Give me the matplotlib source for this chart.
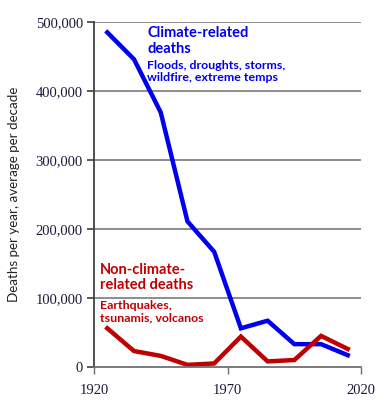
import matplotlib
matplotlib.use('Agg')
import matplotlib.pyplot as plt
from matplotlib.ticker import FuncFormatter

# decade midpoints
years = [1925, 1935, 1945, 1955, 1965, 1975, 1985, 1995, 2005, 2015]
climate = [485000, 446000, 369000, 211000, 167000, 56000, 67000, 33000, 33000, 17000]
non_climate = [56000, 23000, 16000, 3000, 5000, 44000, 8000, 10000, 45000, 26000]

xticks = [1920, 1970, 2020]
yticks = [0, 100000, 200000, 300000, 400000, 500000]

blue = '#0000ee'
red = '#c00000'

fig = plt.figure(figsize=(3.85, 4.01), dpi=100)
ax = fig.add_axes([0.244, 0.085, 0.694, 0.86])

ax.plot(years, climate, color=blue, lw=3.2, solid_joinstyle='miter')
ax.plot(years, non_climate, color=red, lw=3.2, solid_joinstyle='miter')

ax.set_xlim(1920, 2020)
ax.set_ylim(0, 500000)
ax.set_xticks(xticks)
ax.set_yticks(yticks)
ax.yaxis.set_major_formatter(FuncFormatter(lambda v, p: '{:,.0f}'.format(v)))

for y in yticks[1:]:
    ax.axhline(y, color='#7a7a7a', lw=1.2, zorder=0)

for s in ['top', 'right']:
    ax.spines[s].set_visible(False)
ax.spines['left'].set_color('#404040')
ax.spines['left'].set_linewidth(1.3)
ax.spines['bottom'].set_color('#707070')
ax.spines['bottom'].set_linewidth(1.3)
ax.tick_params(axis='y', direction='out', length=5, width=1.2, color='#404040', pad=3)
ax.tick_params(axis='x', direction='out', length=5, width=1.0, color='#707070', pad=7)
for lab in ax.get_xticklabels() + ax.get_yticklabels():
    lab.set_fontfamily('Liberation Serif')
    lab.set_fontsize(10.5)
    lab.set_color('#1a1a3a')

ax.set_ylabel('Deaths per year, average per decade', fontfamily='Lato',
              fontsize=9.6, color='#222222')
ax.yaxis.set_label_coords(-0.275, 0.5)

ax.text(0.2, 0.99, 'Climate-related\ndeaths', transform=ax.transAxes,
        color=blue, fontfamily='Lato', fontweight='bold', fontsize=10.5,
        va='top', ha='left', linespacing=1.2)
ax.text(0.2, 0.89, 'Floods, droughts, storms,\nwildfire, extreme temps',
        transform=ax.transAxes, color=blue, fontfamily='Lato',
        fontweight='bold', fontsize=8.9, va='top', ha='left', linespacing=1.15)

ax.text(0.022, 0.302, 'Non-climate-\nrelated deaths', transform=ax.transAxes,
        color=red, fontfamily='Lato', fontweight='bold', fontsize=10.5,
        va='top', ha='left', linespacing=1.15)
ax.text(0.022, 0.193, 'Earthquakes,\ntsunamis, volcanos',
        transform=ax.transAxes, color=red, fontfamily='Lato',
        fontweight='bold', fontsize=8.9, va='top', ha='left', linespacing=1.15)

fig.savefig('out.png', dpi=100)
